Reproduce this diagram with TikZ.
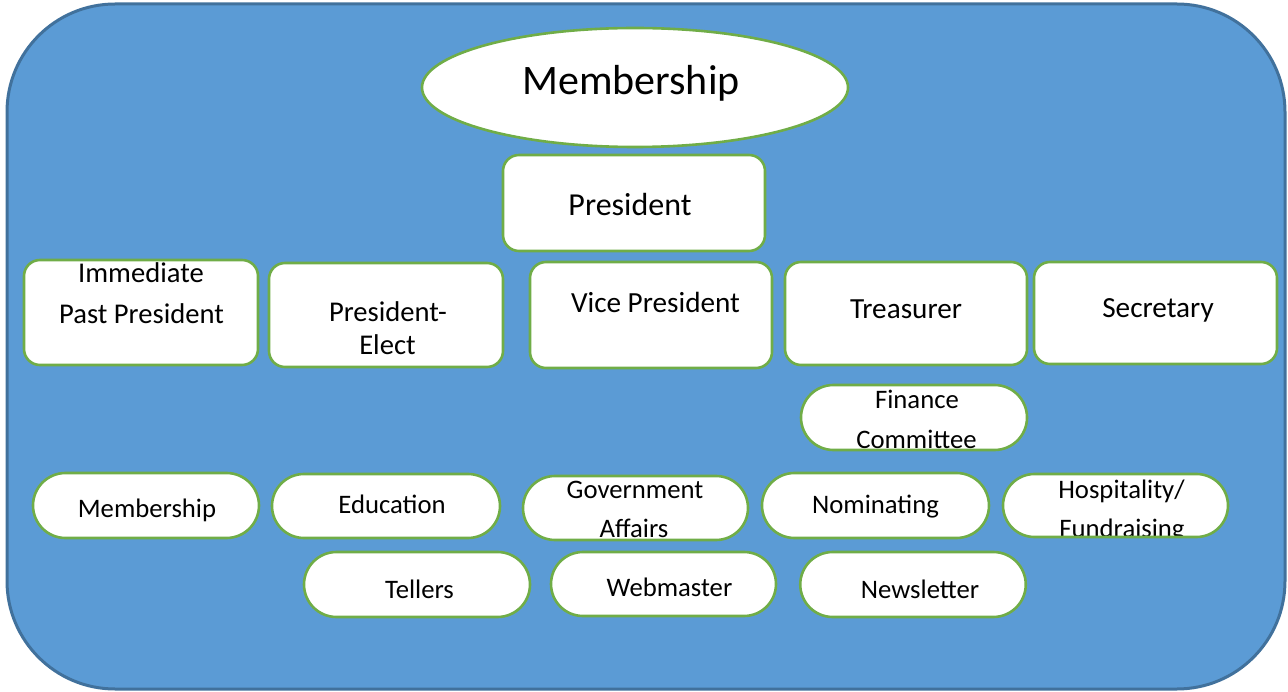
\documentclass[tikz,border=0pt]{standalone}
\usepackage{fontspec}
\setmainfont{Carlito}
\usetikzlibrary{shapes.geometric,shapes.misc,calc}

\definecolor{panelblue}{HTML}{5B9BD5}
\definecolor{paneledge}{HTML}{41719C}
\definecolor{leafgreen}{HTML}{70AD47}

% a line of text set on its baseline, offset from the centre of the enclosing shape
\newcommand\orgtext[3]{\node[anchor=base,inner sep=0pt,font=\fontsize{#1}{#1}\selectfont]
  at ($(path picture bounding box.center)+(#2)$) {#3};}

\tikzset{
  panel/.style={fill=panelblue, draw=paneledge, line width=3pt, rounded corners=108pt,
    rectangle, inner sep=0pt},
  orgbox/.style={draw=leafgreen, fill=white, line width=2.6pt, rounded corners=16pt,
    rectangle, inner sep=0pt},
  pill/.style={draw=leafgreen, fill=white, line width=2.6pt, rounded rectangle,
    inner sep=0pt, minimum height=65pt},
  oval/.style={draw=leafgreen, fill=white, line width=2.6pt, ellipse, inner sep=0pt},
}

\begin{document}
\begin{tikzpicture}[x=1pt,y=-1pt]
\useasboundingbox (0,0) rectangle (1288,692);

% backdrop
\node[panel, minimum width=1278pt, minimum height=685pt] (panel) at (646,346.5) {};

% top of the chart
\node[oval, minimum width=426pt, minimum height=119pt,
  path picture={\orgtext{42}{-4,7.5}{Membership}}] (members) at (635,87.5) {};
\node[orgbox, minimum width=262pt, minimum height=96pt,
  path picture={\orgtext{32}{-4,13}{President}}] (pres) at (634,203) {};

% officers
\node[orgbox, minimum width=234pt, minimum height=105pt,
  path picture={\orgtext{28.6}{0,-29.5}{Immediate}\orgtext{28.6}{0.5,11.5}{Past President}}]
  (past) at (141,312.5) {};
\node[orgbox, minimum width=234pt, minimum height=104pt,
  path picture={\orgtext{28.6}{2,7}{President-}\orgtext{28.6}{1.5,40}{Elect}}]
  (elect) at (386,315) {};
\node[orgbox, minimum width=242pt, minimum height=106pt,
  path picture={\orgtext{29.2}{4.5,-2}{Vice President}}] (vice) at (651,315) {};
\node[orgbox, minimum width=242pt, minimum height=103pt,
  path picture={\orgtext{29.2}{0,5.5}{Treasurer}}] (treas) at (906,313.5) {};
\node[orgbox, minimum width=243pt, minimum height=102pt,
  path picture={\orgtext{29.2}{2.5,5}{Secretary}}] (secr) at (1155.5,313) {};

\node[pill, minimum width=226pt,
  path picture={\orgtext{26.7}{3,-8.5}{Finance}\orgtext{26.7}{2.5,30.5}{Committee}}]
  (finance) at (914,417.5) {};

% committees
\node[pill, minimum width=226pt,
  path picture={\orgtext{26.7}{1,11.5}{Membership}}] (cmemb) at (146,505.5) {};
\node[pill, minimum width=228pt, minimum height=64pt,
  path picture={\orgtext{26.7}{6,7}{Education}}] (educ) at (386,506) {};
\node[pill, minimum width=225pt, minimum height=64pt,
  path picture={\orgtext{26.7}{-0.5,-10}{Government}\orgtext{26.7}{-1.5,29}{Affairs}}]
  (gov) at (635.5,508) {};
\node[pill, minimum width=227pt,
  path picture={\orgtext{26.7}{0,7.5}{Nominating}}] (nomin) at (875.5,505.5) {};
\node[pill, minimum width=225pt, minimum height=63pt,
  path picture={\orgtext{26.7}{6,-7.5}{Hospitality/}\orgtext{26.7}{6.5,31.5}{Fundraising}}]
  (hosp) at (1115.5,505.5) {};

\node[pill, minimum width=226pt,
  path picture={\orgtext{26.7}{2.5,13.5}{Tellers}}] (tellers) at (417,584.5) {};
\node[pill, minimum width=225pt, minimum height=64pt,
  path picture={\orgtext{26.7}{6,12}{Webmaster}}] (web) at (663.5,584) {};
\node[pill, minimum width=225.5pt,
  path picture={\orgtext{26.7}{7,13.5}{Newsletter}}] (news) at (913,584.5) {};
\end{tikzpicture}
\end{document}
